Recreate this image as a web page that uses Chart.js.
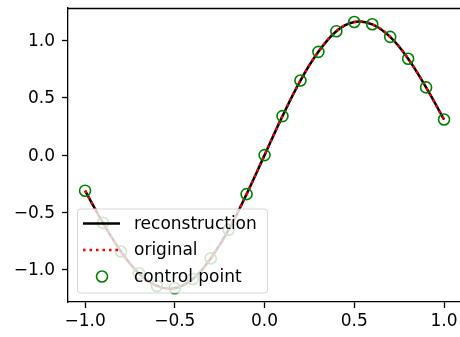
<!DOCTYPE html>
<html>
<head>
<meta charset="utf-8">
<script src="https://cdn.jsdelivr.net/npm/chart.js@4/dist/chart.umd.min.js"></script>
<style>
  body { margin: 0; background: #fff; }
  canvas { display: block; }
</style>
</head>
<body>
<canvas id="chart" width="460" height="337"></canvas>
<script>
// valores
const xValues = [-1.0, -0.9, -0.8, -0.7, -0.6, -0.5, -0.4, -0.3, -0.2, -0.1, 0.0,
                 0.1, 0.2, 0.3, 0.4, 0.5, 0.6, 0.7, 0.8, 0.9, 1.0];
const reconstruction = [-0.31, -0.59, -0.84, -1.03, -1.14, -1.16, -1.08, -0.90, -0.65, -0.34, 0.00,
                        0.34, 0.65, 0.90, 1.08, 1.16, 1.14, 1.03, 0.84, 0.59, 0.31];
const original = [-0.31, -0.59, -0.84, -1.03, -1.14, -1.16, -1.08, -0.90, -0.65, -0.34, 0.00,
                  0.34, 0.65, 0.90, 1.08, 1.16, 1.14, 1.03, 0.84, 0.59, 0.31];
const controlPoints = [-0.31, -0.59, -0.84, -1.03, -1.14, -1.16, -1.08, -0.90, -0.65, -0.34, 0.00,
                       0.34, 0.65, 0.90, 1.08, 1.16, 1.14, 1.03, 0.84, 0.59, 0.31];
const xTicks = [-1.0, -0.5, 0.0, 0.5, 1.0];
const yTicks = [-1.0, -0.5, 0.0, 0.5, 1.0];

const FONT = "'DejaVu Sans', sans-serif";
const FONT_SIZE = 17;
const toPoints = ys => xValues.map((x, i) => ({ x: x, y: ys[i] }));
const fmt = v => (v < 0 ? '\u2212' : '') + Math.abs(v).toFixed(1);

// tirar o espaço extra que o Chart.js reserva para os rótulos
const noPad = s => {
    s.paddingLeft = 0; s.paddingRight = 0;
    s.paddingTop = 0; s.paddingBottom = 0;
};

// borda superior + legenda dentro do gráfico
const boxPlugin = {
    id: 'box',
    afterDraw(chart) {
        const ctx = chart.ctx;
        const a = chart.chartArea;
        ctx.save();
        ctx.strokeStyle = '#000';
        ctx.lineWidth = 1.3;
        ctx.beginPath();
        ctx.moveTo(a.left, a.top + 0.5);
        ctx.lineTo(a.right, a.top + 0.5);
        ctx.stroke();

        // legenda
        const lx = 77.5, ly = 209, lw = 190, lh = 84, r = 3;
        ctx.beginPath();
        ctx.moveTo(lx + r, ly);
        ctx.arcTo(lx + lw, ly, lx + lw, ly + lh, r);
        ctx.arcTo(lx + lw, ly + lh, lx, ly + lh, r);
        ctx.arcTo(lx, ly + lh, lx, ly, r);
        ctx.arcTo(lx, ly, lx + lw, ly, r);
        ctx.closePath();
        ctx.fillStyle = 'rgba(255,255,255,0.8)';
        ctx.fill();
        ctx.strokeStyle = 'rgba(204,204,204,0.8)';
        ctx.lineWidth = 1;
        ctx.stroke();

        const rows = [223.5, 250, 276.5];
        const ds = chart.data.datasets;
        ctx.font = FONT_SIZE + 'px ' + FONT;
        ctx.textBaseline = 'middle';
        ds.forEach((d, i) => {
            const y = rows[i];
            if (d.showLine === false) {
                ctx.beginPath();
                ctx.arc(102, y, d.pointRadius, 0, Math.PI * 2);
                ctx.strokeStyle = d.pointBorderColor;
                ctx.lineWidth = d.pointBorderWidth;
                ctx.stroke();
            } else {
                ctx.beginPath();
                ctx.setLineDash(d.borderDash || []);
                ctx.moveTo(83, y);
                ctx.lineTo(120, y);
                ctx.strokeStyle = d.borderColor;
                ctx.lineWidth = d.borderWidth;
                ctx.stroke();
                ctx.setLineDash([]);
            }
            ctx.fillStyle = '#000';
            ctx.fillText(d.label, 134, y + 1);
        });
        ctx.restore();
    }
};

new Chart(document.getElementById('chart'), {
    type: 'line',
    data: {
        datasets: [
            {
                label: 'reconstruction',
                data: toPoints(reconstruction),
                borderColor: '#000000',
                borderWidth: 2.5,
                pointRadius: 0,
                tension: 0.4,
                fill: false,
                order: 3
            },
            {
                label: 'original',
                data: toPoints(original),
                borderColor: '#ff0000',
                borderWidth: 2.5,
                borderDash: [2.5, 4],
                pointRadius: 0,
                tension: 0.4,
                fill: false,
                order: 2
            },
            {
                label: 'control point',
                data: toPoints(controlPoints),
                showLine: false,
                pointStyle: 'circle',
                pointRadius: 5.5,
                pointBorderWidth: 1.6,
                pointBorderColor: '#008000',
                pointBackgroundColor: 'rgba(0,0,0,0)',
                order: 1
            }
        ]
    },
    options: {
        responsive: false,
        animation: false,
        layout: { autoPadding: false, padding: { top: 8, right: 0, left: 0, bottom: 0 } },
        plugins: {
            legend: { display: false },
            tooltip: { enabled: false }
        },
        scales: {
            x: {
                type: 'linear',
                min: -1.095,
                max: 1.089,
                afterBuildTicks: s => { s.ticks = xTicks.map(v => ({ value: v })); },
                afterFit: s => { s.height = 35; noPad(s); },
                grid: { drawOnChartArea: false, drawTicks: true, tickLength: 6, tickWidth: 1.3, color: '#000' },
                border: { display: true, color: '#000', width: 1.3 },
                ticks: {
                    padding: 3,
                    color: '#000',
                    font: { family: FONT, size: FONT_SIZE },
                    maxRotation: 0,
                    callback: v => fmt(v)
                }
            },
            y: {
                type: 'linear',
                min: -1.28,
                max: 1.282,
                afterBuildTicks: s => { s.ticks = yTicks.map(v => ({ value: v })); },
                afterFit: s => { s.width = 68; noPad(s); },
                grid: { drawOnChartArea: false, drawTicks: true, tickLength: 6, tickWidth: 1.3, color: '#000' },
                border: { display: true, color: '#000', width: 1.3 },
                ticks: {
                    padding: 7,
                    labelOffset: 1,
                    color: '#000',
                    font: { family: FONT, size: FONT_SIZE },
                    callback: v => fmt(v)
                }
            }
        }
    },
    plugins: [boxPlugin]
});
</script>
</body>
</html>
